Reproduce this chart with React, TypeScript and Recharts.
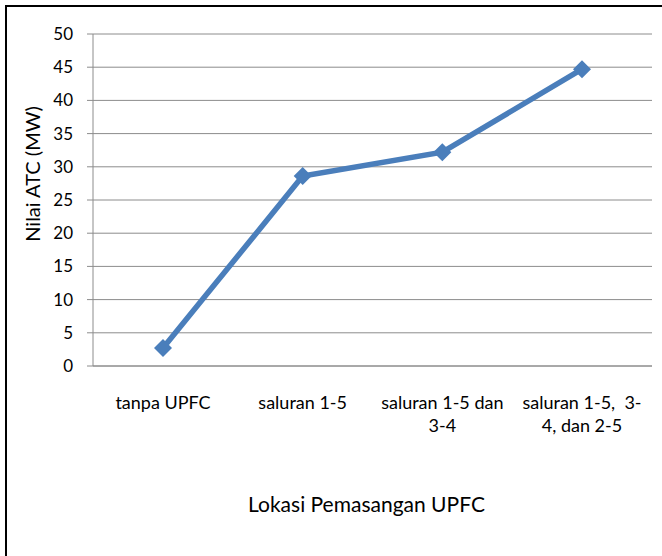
import React from "react";
import { LineChart, Line, XAxis, YAxis, CartesianGrid } from "recharts";

const categories = [
  "tanpa UPFC",
  "saluran 1-5",
  "saluran 1-5 dan 3-4",
  "saluran 1-5,  3-4, dan 2-5",
];
const tickLines: string[][] = [
  ["tanpa UPFC"],
  ["saluran 1-5"],
  ["saluran 1-5 dan", "3-4"],
  ["saluran 1-5,  3-", "4, dan 2-5"],
];
const atcValues = [2.7, 28.6, 32.2, 44.7];
const yTicks = [0, 5, 10, 15, 20, 25, 30, 35, 40, 45, 50];
const xTitle = "Lokasi Pemasangan UPFC";
const yTitle = "Nilai ATC (MW)";

const data = categories.map((c, i) => ({ name: c, value: atcValues[i] }));

const FONT = "Lato, 'Open Sans', sans-serif";
const BLUE = "#4A7EBB";

const Diamond = (props: any) => {
  const { cx, cy } = props;
  if (cx == null || cy == null) return null;
  const r = 9;
  return (
    <path
      d={`M${cx},${cy - r} L${cx + r},${cy} L${cx},${cy + r} L${cx - r},${cy} Z`}
      fill={BLUE}
    />
  );
};

const XTick = (props: any) => {
  const { x, y, index } = props;
  const lines = tickLines[index] || [];
  return (
    <g>
      {lines.map((l, i) => (
        <text
          key={i}
          x={x}
          y={y + 35 + i * 23}
          textAnchor="middle"
          fontFamily={FONT}
          fontSize={18}
          fill="#000"
          style={{ whiteSpace: "pre" }}
        >
          {l}
        </text>
      ))}
    </g>
  );
};

export default function App() {
  return (
    <div style={{ position: "absolute", left: 0, top: 0, width: 662, height: 556, background: "#fff" }}>
      <div
        style={{
          position: "absolute",
          left: 5,
          top: 5,
          width: 657,
          height: 551,
          borderLeft: "2px solid #000",
          borderTop: "2px solid #000",
          boxSizing: "border-box",
        }}
      />
      <LineChart
        width={662}
        height={556}
        data={data}
        margin={{ top: 34, right: 10, bottom: 0, left: 0 }}
        style={{ position: "absolute", left: 0, top: 0 }}
      >
        <CartesianGrid vertical={false} stroke="#8c8c8c" strokeWidth={1} />
        <XAxis
          dataKey="name"
          interval={0}
          height={190}
          padding={{ left: 70, right: 70 }}
          axisLine={{ stroke: "#8c8c8c" }}
          tickLine={false}
          tick={<XTick />}
          label={{
            value: xTitle,
            position: "insideBottom",
            offset: 44,
            dx: -6,
            fontFamily: FONT,
            fontSize: 21,
            fill: "#000",
          }}
        />
        <YAxis
          width={93}
          domain={[0, 50]}
          ticks={yTicks}
          interval={0}
          axisLine={{ stroke: "#8c8c8c" }}
          tickLine={{ stroke: "#8c8c8c" }}
          tickSize={6}
          tickMargin={14}
          tick={{ fontFamily: FONT, fontSize: 17, fill: "#000" }}
          label={{
            content: (p: any) => {
              const vb = p.viewBox;
              const x = vb.x + 32;
              const y = vb.y + vb.height / 2 - 26;
              return (
                <text
                  x={x}
                  y={y}
                  transform={`rotate(-90, ${x}, ${y})`}
                  textAnchor="middle"
                  dominantBaseline="central"
                  fontFamily={FONT}
                  fontSize={20}
                  fill="#000"
                >
                  {yTitle}
                </text>
              );
            },
          }}
        />
        <Line
          type="linear"
          dataKey="value"
          stroke={BLUE}
          strokeWidth={5.5}
          dot={<Diamond />}
          activeDot={false}
          isAnimationActive={false}
        />
      </LineChart>
    </div>
  );
}
